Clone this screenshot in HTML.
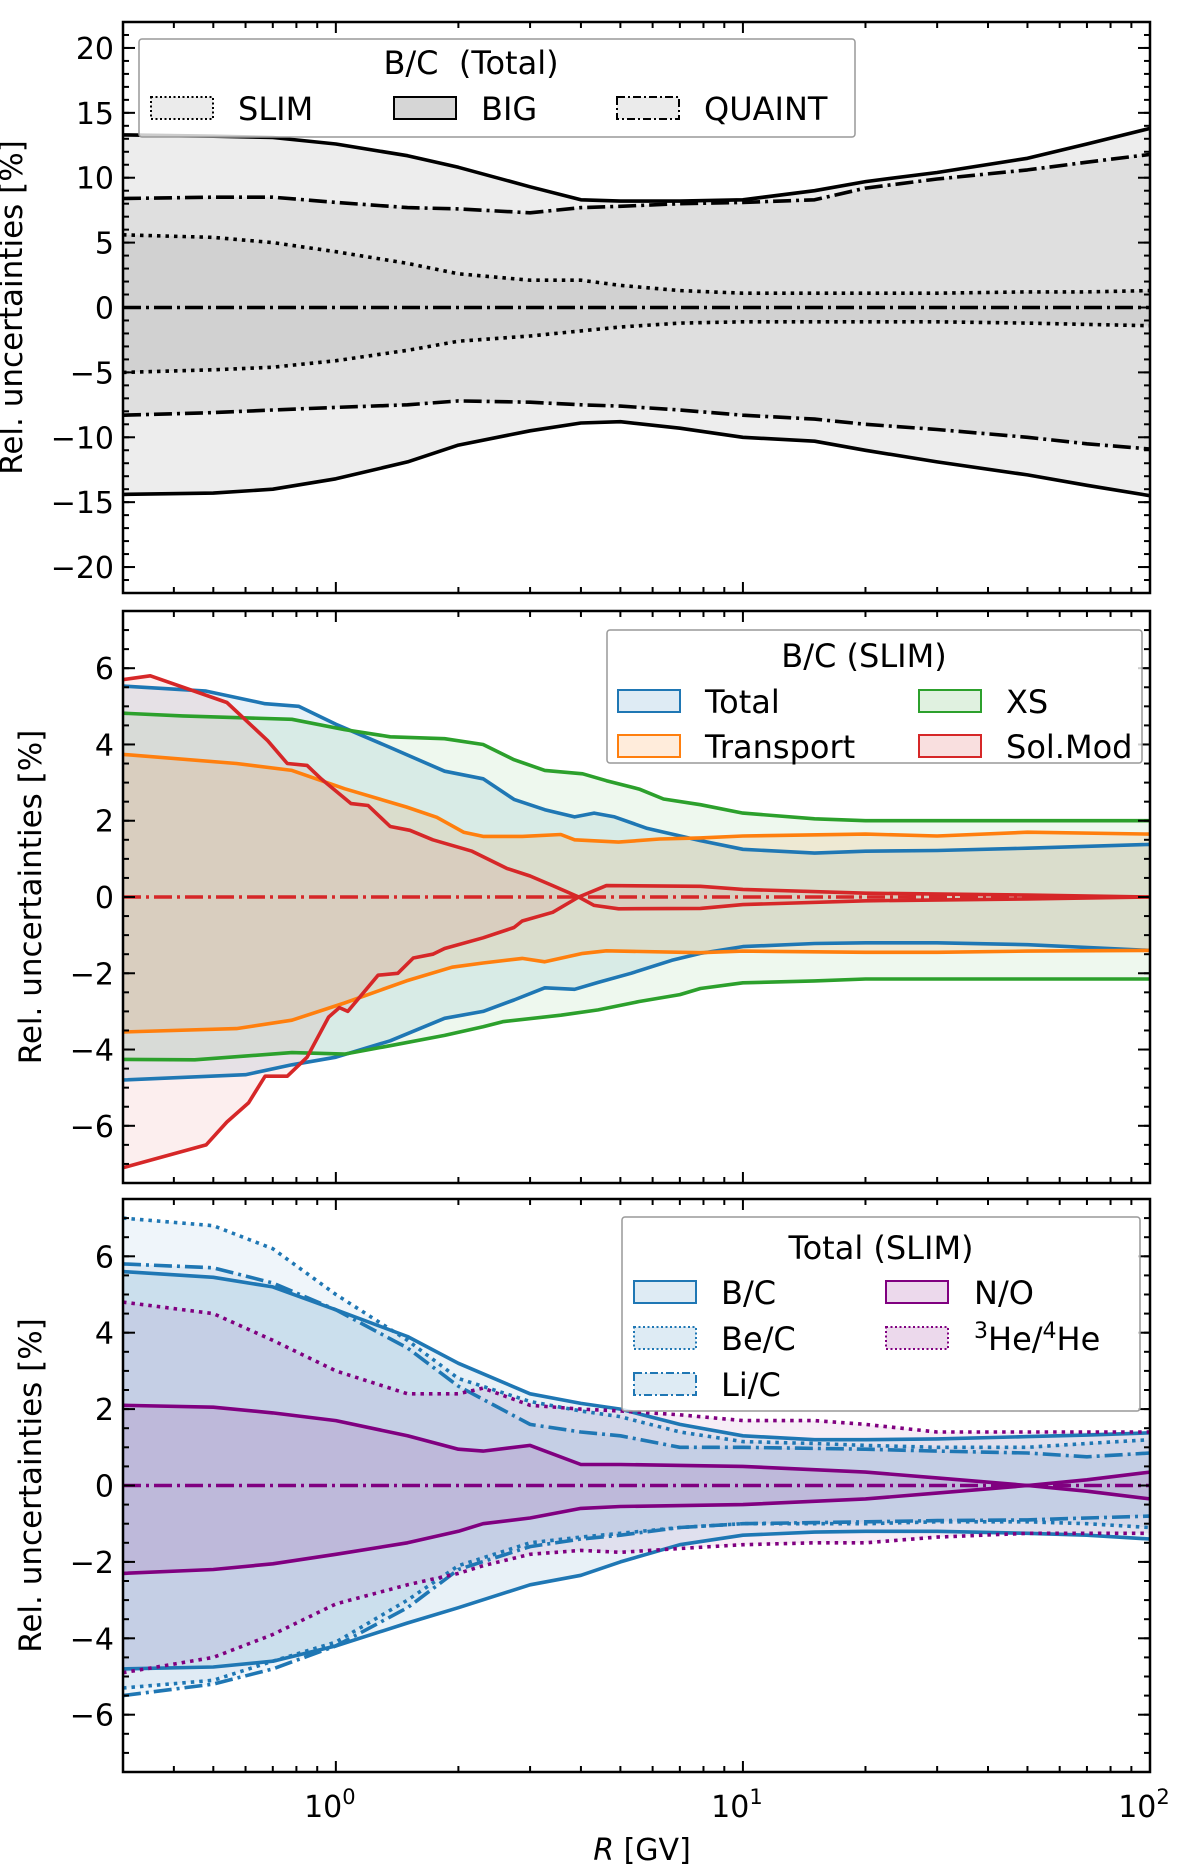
<!DOCTYPE html>
<html><head><meta charset="utf-8"><style>
html,body{margin:0;padding:0;background:#fff}
svg{display:block;font-family:"DejaVu Sans","Liberation Sans",sans-serif}
</style></head><body>
<svg id="chart" width="1200" height="1871" viewBox="0 0 1200 1871" xmlns="http://www.w3.org/2000/svg"></svg>
<script>
// ---------- Panel 1 data: B/C (Total) ----------
const P1_X = [0.3,0.5,0.7,1,1.5,2,3,4,5,7,10,15,20,30,50,70,100];
const P1_BIG_UP = [13.3,13.2,13.1,12.6,11.7,10.8,9.3,8.3,8.2,8.2,8.3,9.0,9.7,10.4,11.5,12.6,13.8];
const P1_BIG_LO = [-14.4,-14.3,-14.0,-13.2,-11.9,-10.6,-9.5,-8.9,-8.8,-9.3,-10.0,-10.3,-11.0,-11.9,-12.9,-13.7,-14.5];
const P1_QUAINT_UP = [8.4,8.5,8.5,8.1,7.7,7.6,7.3,7.7,7.8,8.0,8.1,8.3,9.2,9.9,10.6,11.2,11.8];
const P1_QUAINT_LO = [-8.3,-8.1,-7.9,-7.7,-7.5,-7.2,-7.3,-7.5,-7.6,-7.9,-8.3,-8.6,-9.0,-9.4,-10.0,-10.5,-10.9];
const P1_SLIM_UP = [5.6,5.4,5.0,4.3,3.4,2.6,2.1,2.1,1.7,1.3,1.1,1.1,1.1,1.1,1.2,1.2,1.3];
const P1_SLIM_LO = [-5.0,-4.8,-4.6,-4.1,-3.3,-2.6,-2.2,-1.8,-1.5,-1.2,-1.1,-1.1,-1.1,-1.1,-1.2,-1.3,-1.4];
const P1_YTICKS = [-20,-15,-10,-5,0,5,10,15,20];

// ---------- Panel 2 data: B/C (SLIM) ----------
const P2_TOT_UP_X = [0.3,0.48,0.67,0.81,1.0,1.36,1.85,2.3,2.74,3.26,3.86,4.31,4.84,5.82,7.86,10,15,20,30,50,100];
const P2_TOT_UP = [5.53,5.4,5.07,5.0,4.53,3.92,3.3,3.1,2.56,2.29,2.1,2.2,2.1,1.8,1.48,1.25,1.15,1.2,1.22,1.28,1.38];
const P2_TOT_LO_X = [0.3,0.6,0.78,1.0,1.36,1.85,2.3,2.74,3.26,3.86,4.41,5.31,6.69,7.86,10,15,20,30,50,100];
const P2_TOT_LO = [-4.8,-4.66,-4.4,-4.2,-3.77,-3.18,-3.0,-2.7,-2.38,-2.42,-2.24,-2.0,-1.66,-1.48,-1.3,-1.22,-1.2,-1.2,-1.25,-1.4];
const P2_XS_UP_X = [0.3,0.42,0.78,1.05,1.36,1.85,2.3,2.74,3.26,4.04,4.62,5.56,6.38,7.86,10,15,20,30,50,100];
const P2_XS_UP = [4.82,4.75,4.66,4.39,4.2,4.15,4.0,3.6,3.32,3.23,3.05,2.83,2.57,2.42,2.2,2.05,2.0,2.0,2.0,2.0];
const P2_XS_LO_X = [0.3,0.45,0.78,1.05,1.36,1.85,2.3,2.57,3.57,4.41,5.56,7.0,7.86,10,15,20,30,50,100];
const P2_XS_LO = [-4.26,-4.27,-4.08,-4.12,-3.9,-3.63,-3.4,-3.27,-3.1,-2.96,-2.74,-2.56,-2.4,-2.25,-2.2,-2.15,-2.15,-2.15,-2.15];
const P2_TR_UP_X = [0.3,0.57,0.78,1.05,1.49,1.77,2.06,2.3,2.87,3.57,3.86,4.95,6.24,7.86,10,20,30,50,100];
const P2_TR_UP = [3.74,3.5,3.32,2.84,2.36,2.09,1.7,1.59,1.59,1.64,1.5,1.44,1.52,1.55,1.6,1.65,1.6,1.7,1.65];
const P2_TR_LO_X = [0.3,0.57,0.78,1.05,1.49,1.93,2.3,2.87,3.26,4.04,4.62,7.86,10,20,30,50,100];
const P2_TR_LO = [-3.54,-3.45,-3.23,-2.78,-2.2,-1.84,-1.73,-1.61,-1.7,-1.48,-1.41,-1.46,-1.42,-1.45,-1.45,-1.42,-1.4];
const P2_SM_UP_X = [0.3,0.35,0.54,0.68,0.76,0.85,0.92,1.09,1.2,1.36,1.52,1.73,2.16,2.63,3.0,3.41,3.95,4.62,7.86,10,20,50,100];
const P2_SM_UP = [5.7,5.8,5.1,4.1,3.5,3.45,3.1,2.45,2.4,1.85,1.75,1.5,1.2,0.75,0.55,0.3,0.0,0.3,0.28,0.2,0.1,0.05,0.0];
const P2_SM_LO_X = [0.3,0.48,0.54,0.61,0.67,0.76,0.85,0.96,1.02,1.07,1.27,1.42,1.55,1.73,1.85,2.3,2.74,2.87,3.41,3.95,4.31,4.95,7.86,10,20,50,100];
const P2_SM_LO = [-7.1,-6.5,-5.9,-5.4,-4.7,-4.7,-4.2,-3.15,-2.9,-3.0,-2.05,-2.0,-1.6,-1.5,-1.35,-1.07,-0.8,-0.63,-0.4,0.0,-0.22,-0.31,-0.3,-0.2,-0.1,-0.05,0.0];
const P23_YTICKS = [-6,-4,-2,0,2,4,6];

// ---------- Panel 3 data: Total (SLIM) ----------
const P3_X = [0.3,0.5,0.7,1,1.5,2,3,4,5,7,10,15,20,30,50,70,100];
const P3_BC_UP = [5.6,5.45,5.2,4.6,3.9,3.2,2.4,2.15,2.0,1.6,1.3,1.2,1.2,1.22,1.28,1.32,1.38];
const P3_BC_LO = [-4.8,-4.75,-4.6,-4.2,-3.6,-3.2,-2.6,-2.35,-2.0,-1.55,-1.3,-1.22,-1.2,-1.2,-1.25,-1.3,-1.4];
const P3_BE_UP = [7.0,6.8,6.2,5.0,3.8,2.8,2.2,1.95,1.8,1.4,1.15,1.1,1.05,1.0,1.0,1.1,1.2];
const P3_BE_LO = [-5.3,-5.1,-4.6,-4.1,-3.0,-2.1,-1.5,-1.35,-1.25,-1.1,-1.0,-1.0,-1.0,-0.95,-0.95,-1.0,-1.1];
const P3_LI_UP = [5.8,5.7,5.3,4.6,3.6,2.6,1.6,1.4,1.3,1.0,1.0,0.97,0.95,0.9,0.85,0.75,0.85];
const P3_LI_LO = [-5.5,-5.2,-4.8,-4.2,-3.2,-2.2,-1.6,-1.4,-1.3,-1.1,-1.0,-0.97,-0.95,-0.92,-0.9,-0.85,-0.8];
const P3_NO_X = [0.3,0.5,0.7,1,1.5,2,2.3,3,4,5,10,20,30,50,70,100];
const P3_NO_UP = [2.1,2.05,1.9,1.7,1.3,0.95,0.9,1.05,0.55,0.55,0.5,0.35,0.2,0.0,-0.15,-0.35];
const P3_NO_LO = [-2.3,-2.2,-2.05,-1.8,-1.5,-1.2,-1.0,-0.85,-0.6,-0.55,-0.5,-0.35,-0.2,0.0,0.15,0.35];
const P3_HE_X = [0.3,0.5,0.7,1,1.5,2,2.3,3,4,5,7,10,15,20,30,50,100];
const P3_HE_UP = [4.8,4.5,3.8,3.0,2.4,2.4,2.55,2.1,2.0,1.95,1.85,1.7,1.7,1.6,1.4,1.4,1.4];
const P3_HE_LO = [-4.9,-4.5,-3.9,-3.1,-2.6,-2.3,-2.1,-1.8,-1.7,-1.75,-1.65,-1.55,-1.5,-1.5,-1.35,-1.25,-1.25];
const X_MAJOR = [1,10,100];
const X_MAJOR_EXP = ['0','1','2'];

// ---------- geometry ----------
const NS = 'http://www.w3.org/2000/svg';
const svg = document.getElementById('chart');
const XL = 123, XR = 1150, XMIN = 0.3, XMAX = 100;
function xs(v){ return XL + (Math.log10(v)-Math.log10(XMIN))/(Math.log10(XMAX)-Math.log10(XMIN))*(XR-XL); }
function mk(tag, attrs, parent){
  const e = document.createElementNS(NS, tag);
  for (const k in attrs) e.setAttribute(k, attrs[k]);
  (parent||svg).appendChild(e); return e;
}
const C0='#1f77b4', C1='#ff7f0e', C2='#2ca02c', C3='#d62728', PU='#800080';
const DASHDOT='18,5,3,5', DOT='3.5,5', DOTLEG='2,2.5', DDLEG='8,3,2,3';
const TICKFS = 30, LEGFS = 32;

function makePanel(name, top, bot, ymin, ymax){
  const p = {top, bot, ymin, ymax, name};
  p.ys = v => top + (ymax - v)/(ymax - ymin)*(bot - top);
  const g = mk('g', {});  
  p.g = g;
  const cp = mk('clipPath', {id:'clip-'+name}, g);
  mk('rect', {x:XL, y:top, width:XR-XL, height:bot-top}, cp);
  p.plot = mk('g', {'clip-path':'url(#clip-'+name+')'}, g);
  
  
  return p;
}
function pathD(p, X, Y){ return X.map((x,i)=>(i?'L':'M')+xs(x).toFixed(1)+','+p.ys(Y[i]).toFixed(1)).join(''); }
function band(p, name, Xu, Yu, Xl, Yl, fill, op){
  let d = pathD(p, Xu, Yu);
  for (let i = Xl.length-1; i >= 0; i--) d += 'L'+xs(Xl[i]).toFixed(1)+','+p.ys(Yl[i]).toFixed(1);
  const e = mk('path', {d: d+'Z', fill, 'fill-opacity':op, stroke:'none'}, p.plot);
   
}
function line(p, name, X, Y, color, dash, w){
  const e = mk('path', {d:pathD(p,X,Y), fill:'none', stroke:color, 'stroke-width':w||3.6, 'stroke-linejoin':'round'}, p.plot);
  if (dash) e.setAttribute('stroke-dasharray', dash);
   
}
function zero(p, color){
  const e = mk('line', {x1:XL, x2:XR, y1:p.ys(0), y2:p.ys(0), stroke:color, 'stroke-width':3.6, 'stroke-dasharray':DASHDOT}, p.plot);
   
}
function axes(p, yticks, yminorStep, showX, labelX){
  const g = p.g;
  for (let dec = -1; dec < 2; dec++) for (let m = 1; m < 10; m++){
    const v = m*Math.pow(10,dec); if (v < XMIN || v > XMAX) continue;
    const x = xs(v), L = (m===1)?11:6;
    mk('line',{x1:x,x2:x,y1:p.bot,y2:p.bot-L,stroke:'#000','stroke-width':2},g);
    mk('line',{x1:x,x2:x,y1:p.top,y2:p.top+L,stroke:'#000','stroke-width':2},g);
  }
  for (let v = Math.ceil(p.ymin/yminorStep)*yminorStep; v <= p.ymax+1e-9; v += yminorStep){
    const y = p.ys(v);
    mk('line',{x1:XL,x2:XL+6,y1:y,y2:y,stroke:'#000','stroke-width':2},g);
    mk('line',{x1:XR,x2:XR-6,y1:y,y2:y,stroke:'#000','stroke-width':2},g);
  }
  yticks.forEach(v=>{
    const y = p.ys(v);
    mk('line',{x1:XL,x2:XL+12,y1:y,y2:y,stroke:'#000','stroke-width':2},g);
    mk('line',{x1:XR,x2:XR-12,y1:y,y2:y,stroke:'#000','stroke-width':2},g);
    const t = mk('text',{x:114,y:y+11,'text-anchor':'end','font-size':TICKFS,fill:'#000'},g);
    t.textContent = (v<0?'\u2212':'')+Math.abs(v);
     
  });
  const fr = mk('rect',{x:XL,y:p.top,width:XR-XL,height:p.bot-p.top,fill:'none',stroke:'#000','stroke-width':2.5},g);
   
  const cy = (p.top+p.bot)/2;
  const yl = mk('text',{x:labelX,y:cy,'text-anchor':'middle','font-size':31,transform:'rotate(-90 '+labelX+' '+cy+')'},g);
  yl.textContent = 'Rel. uncertainties [%]';
   
  if (showX){
    X_MAJOR.forEach((v,i)=>{
      const t = mk('text',{x:xs(v)-6,y:p.bot+45,'text-anchor':'middle','font-size':TICKFS},g);
       
      t.appendChild(document.createTextNode('10'));
      const s = mk('tspan',{dy:-13,'font-size':21},t); s.textContent = X_MAJOR_EXP[i];
    });
  }
}
function legBox(g, x, y, w, h){
  mk('rect',{x,y,width:w,height:h,rx:3,fill:'#fff','fill-opacity':0.8,stroke:'#999','stroke-width':1.5},g);
}
function legPatch(g, name, x, y, fill, op, stroke, dash, label, tx){
  const r = mk('rect',{x,y,width:62,height:22,fill,'fill-opacity':op,stroke,'stroke-width':2},g);
  if (dash) r.setAttribute('stroke-dasharray', dash);
   
  const t = mk('text',{x:tx,y:y+23,'font-size':LEGFS},g);
   
  if (typeof label === 'string') t.textContent = label; else label(t);
}

// ---------- Panel 1 ----------
const p1 = makePanel('panel-bc-total', 22, 593, -22, 22);
band(p1,'big-band',P1_X,P1_BIG_UP,P1_X,P1_BIG_LO,'#000',0.07);
band(p1,'quaint-band',P1_X,P1_QUAINT_UP,P1_X,P1_QUAINT_LO,'#000',0.06);
band(p1,'slim-band',P1_X,P1_SLIM_UP,P1_X,P1_SLIM_LO,'#000',0.06);
line(p1,'big-upper',P1_X,P1_BIG_UP,'#000');
line(p1,'big-lower',P1_X,P1_BIG_LO,'#000');
line(p1,'quaint-upper',P1_X,P1_QUAINT_UP,'#000',DASHDOT);
line(p1,'quaint-lower',P1_X,P1_QUAINT_LO,'#000',DASHDOT);
line(p1,'slim-upper',P1_X,P1_SLIM_UP,'#000',DOT);
line(p1,'slim-lower',P1_X,P1_SLIM_LO,'#000',DOT);
zero(p1,'#000');
axes(p1, P1_YTICKS, 1, false, 22);
{
  const lg = mk('g',{},p1.g);  
  legBox(lg,139,39,716,98);
  const t = mk('text',{x:471,y:74,'text-anchor':'middle','font-size':LEGFS},lg); t.textContent='B/C\u00a0 (Total)';
  legPatch(lg,'legend-slim',151,97,'#000',0.08,'#000',DOTLEG,'SLIM',238);
  legPatch(lg,'legend-big',394,97,'#000',0.16,'#000',null,'BIG',481);
  legPatch(lg,'legend-quaint',617,97,'#000',0.08,'#000',DDLEG,'QUAINT',704);
}

// ---------- Panel 2 ----------
const p2 = makePanel('panel-bc-slim', 611, 1183, -7.5, 7.5);
band(p2,'total-band',P2_TOT_UP_X,P2_TOT_UP,P2_TOT_LO_X,P2_TOT_LO,C0,0.1);
band(p2,'transport-band',P2_TR_UP_X,P2_TR_UP,P2_TR_LO_X,P2_TR_LO,C1,0.12);
band(p2,'xs-band',P2_XS_UP_X,P2_XS_UP,P2_XS_LO_X,P2_XS_LO,C2,0.08);
band(p2,'solmod-band',P2_SM_UP_X,P2_SM_UP,P2_SM_LO_X,P2_SM_LO,C3,0.08);
line(p2,'total-upper',P2_TOT_UP_X,P2_TOT_UP,C0);
line(p2,'total-lower',P2_TOT_LO_X,P2_TOT_LO,C0);
line(p2,'transport-upper',P2_TR_UP_X,P2_TR_UP,C1);
line(p2,'transport-lower',P2_TR_LO_X,P2_TR_LO,C1);
line(p2,'xs-upper',P2_XS_UP_X,P2_XS_UP,C2);
line(p2,'xs-lower',P2_XS_LO_X,P2_XS_LO,C2);
line(p2,'solmod-upper',P2_SM_UP_X,P2_SM_UP,C3);
line(p2,'solmod-lower',P2_SM_LO_X,P2_SM_LO,C3);
zero(p2,C3);
axes(p2, P23_YTICKS, 0.5, false, 41);
{
  const lg = mk('g',{},p2.g);  
  legBox(lg,607,630,535,133);
  const t = mk('text',{x:864,y:667,'text-anchor':'middle','font-size':LEGFS},lg); t.textContent='B/C (SLIM)';
  legPatch(lg,'legend-total',618,690,C0,0.15,C0,null,'Total',705);
  legPatch(lg,'legend-transport',618,735,C1,0.15,C1,null,'Transport',705);
  legPatch(lg,'legend-xs',919,690,C2,0.15,C2,null,'XS',1006);
  legPatch(lg,'legend-solmod',919,735,C3,0.15,C3,null,'Sol.Mod',1006);
}

// ---------- Panel 3 ----------
const p3 = makePanel('panel-total-slim', 1199, 1772, -7.5, 7.5);
band(p3,'bc-band',P3_X,P3_BC_UP,P3_X,P3_BC_LO,C0,0.1);
band(p3,'bec-band',P3_X,P3_BE_UP,P3_X,P3_BE_LO,C0,0.07);
band(p3,'lic-band',P3_X,P3_LI_UP,P3_X,P3_LI_LO,C0,0.07);
band(p3,'no-band',P3_NO_X,P3_NO_UP,P3_NO_X,P3_NO_LO,PU,0.1);
band(p3,'he-band',P3_HE_X,P3_HE_UP,P3_HE_X,P3_HE_LO,PU,0.07);
line(p3,'bc-upper',P3_X,P3_BC_UP,C0);
line(p3,'bc-lower',P3_X,P3_BC_LO,C0);
line(p3,'bec-upper',P3_X,P3_BE_UP,C0,DOT);
line(p3,'bec-lower',P3_X,P3_BE_LO,C0,DOT);
line(p3,'lic-upper',P3_X,P3_LI_UP,C0,DASHDOT);
line(p3,'lic-lower',P3_X,P3_LI_LO,C0,DASHDOT);
line(p3,'no-upper',P3_NO_X,P3_NO_UP,PU);
line(p3,'no-lower',P3_NO_X,P3_NO_LO,PU);
line(p3,'he-upper',P3_HE_X,P3_HE_UP,PU,DOT);
line(p3,'he-lower',P3_HE_X,P3_HE_LO,PU,DOT);
zero(p3,PU);
axes(p3, P23_YTICKS, 0.5, true, 41);
{
  const lg = mk('g',{},p3.g);  
  legBox(lg,622,1217,518,194);
  const t = mk('text',{x:881,y:1259,'text-anchor':'middle','font-size':LEGFS},lg); t.textContent='Total (SLIM)';
  legPatch(lg,'legend-bc',634,1281,C0,0.15,C0,null,'B/C',721);
  legPatch(lg,'legend-bec',634,1327,C0,0.15,C0,DOTLEG,'Be/C',721);
  legPatch(lg,'legend-lic',634,1373,C0,0.15,C0,DDLEG,'Li/C',721);
  legPatch(lg,'legend-no',886,1281,PU,0.15,PU,null,'N/O',974);
  legPatch(lg,'legend-he',886,1327,PU,0.15,PU,DOTLEG,function(t){
    const a = mk('tspan',{dy:-12,'font-size':22},t); a.textContent='3';
    const b = mk('tspan',{dy:12},t); b.textContent='He/';
    const c = mk('tspan',{dy:-12,'font-size':22},t); c.textContent='4';
    const d = mk('tspan',{dy:12},t); d.textContent='He';
  },974);
}
const xt = mk('text',{x:642,y:1860,'text-anchor':'middle','font-size':30});
 
const it = mk('tspan',{'font-style':'italic'},xt); it.textContent='R';
const rt = mk('tspan',{},xt); rt.textContent=' [GV]';
</script>
</body></html>
